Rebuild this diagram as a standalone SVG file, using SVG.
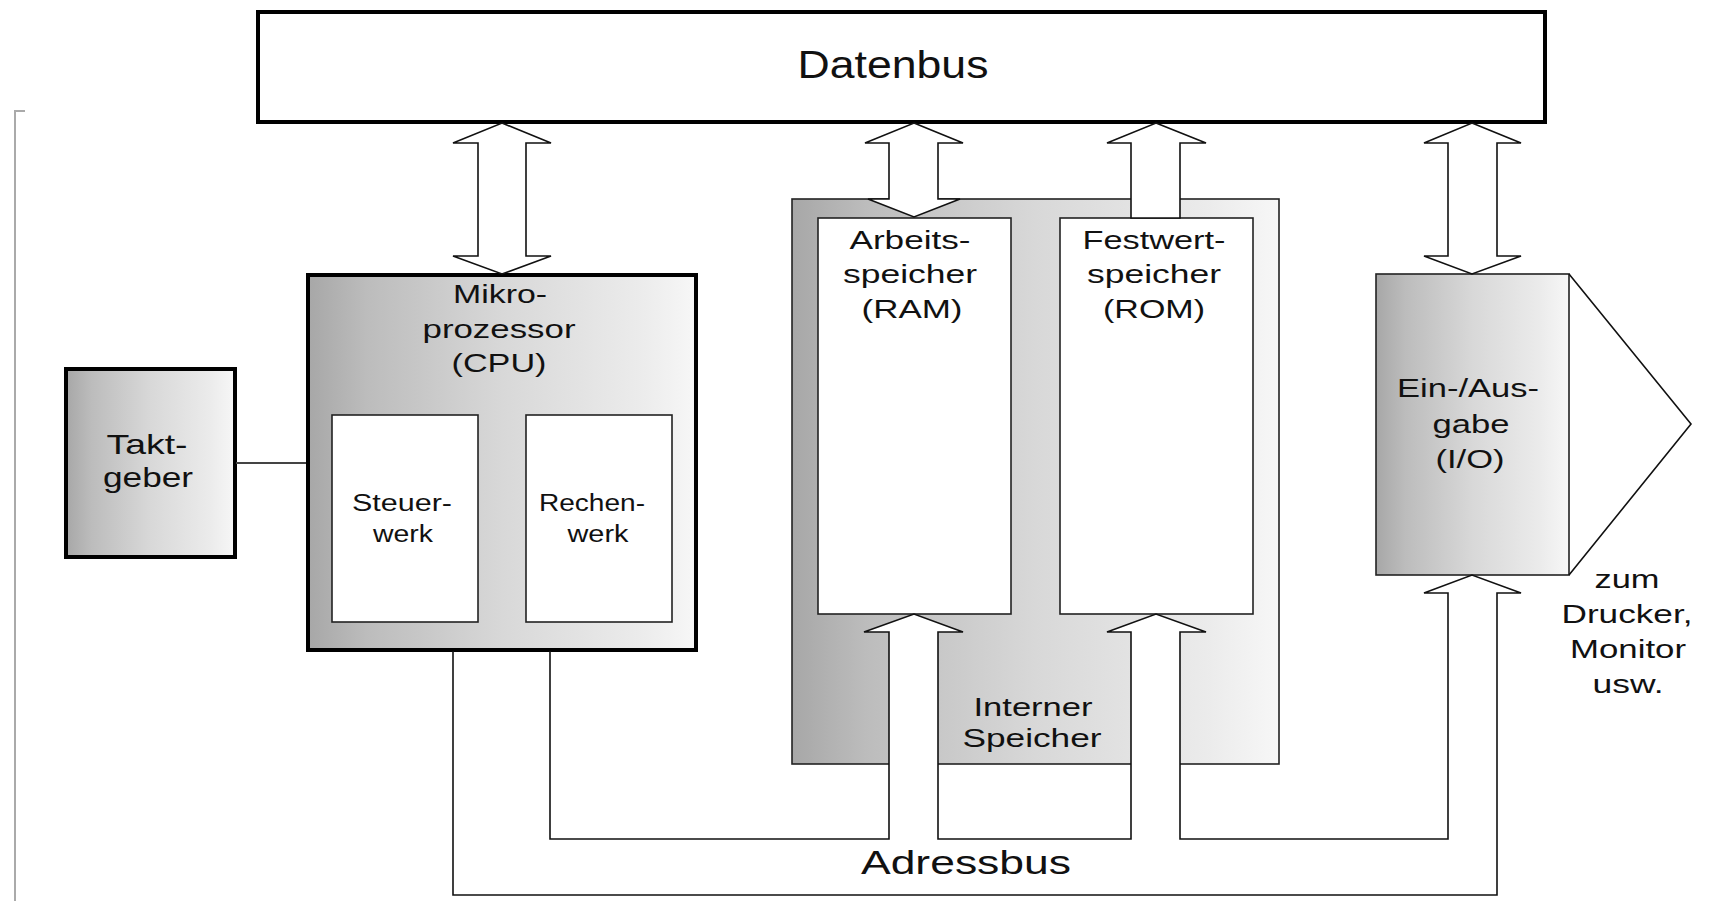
<svg xmlns="http://www.w3.org/2000/svg" width="1734" height="901" viewBox="0 0 1734 901">
<defs>
<linearGradient id="g" x1="0" y1="0" x2="1" y2="0">
<stop offset="0" stop-color="#a7a7a7"/>
<stop offset="0.15" stop-color="#bcbcbc"/>
<stop offset="0.5" stop-color="#d8d8d8"/>
<stop offset="0.85" stop-color="#ebebeb"/>
<stop offset="1" stop-color="#f7f7f7"/>
</linearGradient>
</defs>
<style>
text{font-family:"Liberation Sans",Arial,sans-serif;fill:#111;text-anchor:middle}
.thick{stroke:#000;stroke-width:4;fill:url(#g)}
.thin{stroke:#222;stroke-width:1.6;fill:url(#g)}
.white{stroke:#222;stroke-width:1.6;fill:#fff}
.line{stroke:#111;stroke-width:1.6;fill:none}
.arrow{stroke:#111;stroke-width:1.6;fill:#fff;stroke-linejoin:miter}
.f37{font-size:38px}.f26{font-size:26px}.f22{font-size:23.5px}.f33{font-size:33px}.f25{font-size:25px}
</style>
<rect width="1734" height="901" fill="#fff"/>
<path d="M15,901 V111 H25" stroke="#aaa" stroke-width="2" fill="none"/>

<g id="interner-speicher">
<rect x="792" y="199" width="487" height="565" class="thin"/>
<text class="f26" x="1033" y="716" textLength="119" lengthAdjust="spacingAndGlyphs">Interner</text>
<text class="f26" x="1032" y="747" textLength="139" lengthAdjust="spacingAndGlyphs">Speicher</text>
</g>

<g id="datenbus">
<rect x="258" y="12" width="1287" height="110" fill="#fff" stroke="#000" stroke-width="4"/>
<text class="f37" x="893" y="78" textLength="191" lengthAdjust="spacingAndGlyphs">Datenbus</text>
</g>

<g id="taktgeber">
<rect x="66" y="369" width="169" height="188" class="thick"/>
<text x="147" y="454" style="font-size:28px" textLength="81" lengthAdjust="spacingAndGlyphs">Takt-</text>
<text x="148" y="487" style="font-size:28px" textLength="90" lengthAdjust="spacingAndGlyphs">geber</text>
</g>

<g id="cpu">
<rect x="308" y="275" width="388" height="375" class="thick"/>
<text class="f26" x="500" y="303" textLength="94" lengthAdjust="spacingAndGlyphs">Mikro-</text>
<text class="f26" x="499" y="338" textLength="153" lengthAdjust="spacingAndGlyphs">prozessor</text>
<text class="f26" x="499" y="372" textLength="95" lengthAdjust="spacingAndGlyphs">(CPU)</text>
</g>

<g id="steuerwerk">
<rect x="332" y="415" width="146" height="207" class="white"/>
<text class="f22" x="402" y="511" textLength="100" lengthAdjust="spacingAndGlyphs">Steuer-</text>
<text class="f22" x="403" y="542" textLength="60" lengthAdjust="spacingAndGlyphs">werk</text>
</g>

<g id="rechenwerk">
<rect x="526" y="415" width="146" height="207" class="white"/>
<text class="f22" x="592" y="511" textLength="106" lengthAdjust="spacingAndGlyphs">Rechen-</text>
<text class="f22" x="598" y="542" textLength="61" lengthAdjust="spacingAndGlyphs">werk</text>
</g>

<g id="ram">
<rect x="818" y="218" width="193" height="396" class="white"/>
<text class="f26" x="910" y="249" textLength="121" lengthAdjust="spacingAndGlyphs">Arbeits-</text>
<text class="f26" x="910" y="283" textLength="134" lengthAdjust="spacingAndGlyphs">speicher</text>
<text class="f26" x="912" y="318" textLength="101" lengthAdjust="spacingAndGlyphs">(RAM)</text>
</g>

<g id="rom">
<rect x="1060" y="218" width="193" height="396" class="white"/>
<text class="f26" x="1154" y="249" textLength="143" lengthAdjust="spacingAndGlyphs">Festwert-</text>
<text class="f26" x="1154" y="283" textLength="134" lengthAdjust="spacingAndGlyphs">speicher</text>
<text class="f26" x="1154" y="318" textLength="102" lengthAdjust="spacingAndGlyphs">(ROM)</text>
</g>

<g id="io">
<rect x="1376" y="274" width="193" height="301" class="thin"/>
<polyline points="1569,274 1691,424 1569,575" class="line"/>
<text class="f25" x="1468" y="397" textLength="142" lengthAdjust="spacingAndGlyphs">Ein-/Aus-</text>
<text class="f25" x="1471" y="433" textLength="77" lengthAdjust="spacingAndGlyphs">gabe</text>
<text class="f25" x="1470" y="468" textLength="69" lengthAdjust="spacingAndGlyphs">(I/O)</text>
</g>

<g id="peripherie">
<text class="f25" x="1627" y="588" textLength="65" lengthAdjust="spacingAndGlyphs">zum</text>
<text class="f25" x="1627" y="623" textLength="131" lengthAdjust="spacingAndGlyphs">Drucker,</text>
<text class="f25" x="1628" y="658" textLength="116" lengthAdjust="spacingAndGlyphs">Monitor</text>
<text class="f25" x="1628" y="693" textLength="71" lengthAdjust="spacingAndGlyphs">usw.</text>
</g>

<g id="connectors">
<line x1="236" y1="463" x2="306" y2="463" stroke="#444" stroke-width="2"/>
<polygon class="arrow" points="502,123 551,143 526,143 526,256 551,256 502,274 453,256 478,256 478,143 453,143"/>
<polygon class="arrow" points="914,123 963,143 938,143 938,199 960,199 914,217 868,199 889,199 889,143 865,143"/>
<polygon class="arrow" points="1156,123 1206,143 1180,143 1180,218 1131,218 1131,143 1107,143"/>
<polygon class="arrow" points="1472,123 1521,143 1497,143 1497,256 1521,256 1472,274 1424,256 1448,256 1448,143 1424,143"/>
<polygon fill="#fff" points="889,839 889,632 864,632 914,614 963,632 938,632 938,839"/>
<polygon fill="#fff" points="1131,839 1131,632 1107,632 1156,614 1206,632 1180,632 1180,839"/>
<polygon fill="#fff" points="1448,839 1448,593 1424,593 1472,575 1521,593 1497,593 1497,895"/>
<path class="line" d="M550,651 V839 H889 V632 H864 L914,614 L963,632 H938 V839 H1131 V632 H1107 L1156,614 L1206,632 H1180 V839 H1448 V593 H1424 L1472,575 L1521,593 H1497 V895 H453 V651"/>
<text class="f33" x="966" y="874" textLength="210" lengthAdjust="spacingAndGlyphs">Adressbus</text>
</g>
</svg>
